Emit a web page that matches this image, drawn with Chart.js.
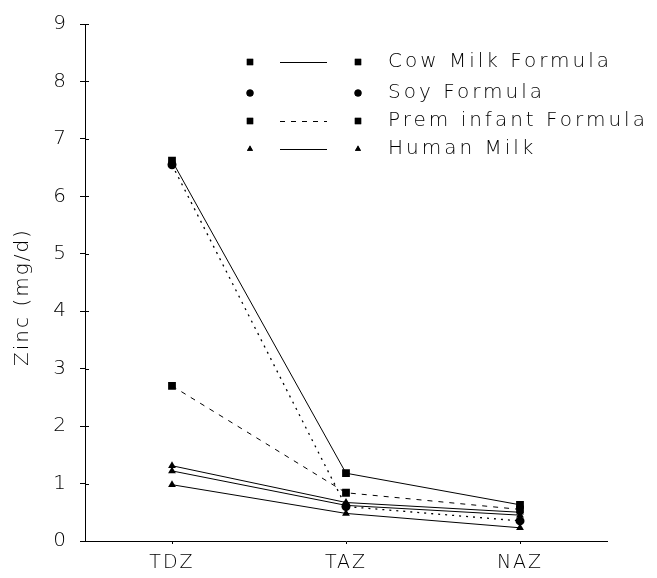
<!DOCTYPE html>
<html>
<head>
<meta charset="utf-8">
<script src="https://cdn.jsdelivr.net/npm/chart.js@4"></script>
<style>
  html, body { margin: 0; padding: 0; background: #fff; }
  #wrap { width: 657px; height: 578px; position: relative; }
</style>
</head>
<body>
<div id="wrap"><canvas id="chart1"></canvas></div>
<script>
var categories = ["TDZ", "TAZ", "NAZ"];
var cowMilk = [6.62, 1.18, 0.63];
var soyFormula = [6.55, 0.6, 0.35];
var premFormula = [2.7, 0.84, 0.55];
var humanMilkA = [1.31, 0.67, 0.5];
var humanMilkB = [1.22, 0.62, 0.45];
var humanMilkC = [0.98, 0.48, 0.23];
var yTicks = [0, 1, 2, 3, 4, 5, 6, 7, 8, 9];

var FONT = "DejaVu Sans";
var WEIGHT = "200";

function line(label, data, style, dash, width, inLegend) {
    return {
        label: label,
        data: data,
        borderColor: "#000",
        backgroundColor: "#000",
        borderWidth: width,
        borderDash: dash,
        pointStyle: style,
        pointRadius: style === "rect" ? 5.5 : 4.5,
        pointBorderWidth: 0,
        tension: 0,
        inLegend: inLegend
    };
}

// letter spaced text like the original typesetting
var spacingPlugin = {
    id: "spacing",
    beforeLayout: function (chart) { chart.ctx.letterSpacing = "2px"; },
    beforeDraw: function (chart) { chart.ctx.letterSpacing = "2px"; }
};

// legend drawn as: marker ---- marker  text, plus axis title and inner tick marks
var legendPlugin = {
    id: "markerLegend",
    afterDraw: function (chart) {
        var c = chart.ctx;
        var rows = [62, 93, 121, 149];
        var k = 0;
        chart.data.datasets.forEach(function (ds) {
            if (!ds.inLegend) return;
            var y = rows[k++];
            var r = ds.pointStyle === "rect" ? 4.5 : 3.5;
            c.save();
            c.fillStyle = "#000";
            Chart.helpers.drawPoint(c, { pointStyle: ds.pointStyle, radius: r, borderWidth: 0 }, 250, y);
            c.fill();
            Chart.helpers.drawPoint(c, { pointStyle: ds.pointStyle, radius: r, borderWidth: 0 }, 358, y);
            c.fill();
            if (ds.label !== "Soy Formula") {
                c.strokeStyle = "#000";
                c.lineWidth = 1;
                c.setLineDash(ds.borderDash || []);
                c.beginPath();
                c.moveTo(280, y + 0.5);
                c.lineTo(327, y + 0.5);
                c.stroke();
                c.setLineDash([]);
            }
            c.font = WEIGHT + " 20px '" + FONT + "'";
            c.letterSpacing = "3px";
            c.textBaseline = "middle";
            c.fillText(ds.label, 388, y);
            c.restore();
        });

        var ys = chart.scales.y;
        c.save();
        c.strokeStyle = "#000";
        c.lineWidth = 1;
        c.beginPath();
        yTicks.forEach(function (v) {
            var py = Math.round(ys.getPixelForValue(v)) + 0.5;
            c.moveTo(ys.right, py);
            c.lineTo(ys.right + 4, py);
        });
        c.stroke();
        c.restore();

        // y axis title
        c.save();
        c.translate(23, 297);
        c.rotate(-Math.PI / 2);
        c.font = WEIGHT + " 20px '" + FONT + "'";
        c.letterSpacing = "2px";
        c.textAlign = "center";
        c.textBaseline = "middle";
        c.fillStyle = "#000";
        c.fillText("Zinc (mg/d)", 0, 0);
        c.restore();
    }
};

var ctx = document.getElementById("chart1").getContext("2d");
var myChart = new Chart(ctx, {
    type: "line",
    data: {
        labels: categories,
        datasets: [
            line("Cow Milk Formula", cowMilk, "rect", [], 1, true),
            line("Soy Formula", soyFormula, "circle", [2, 5], 1.3, true),
            line("Prem infant Formula", premFormula, "rect", [5, 6], 1, true),
            line("Human Milk", humanMilkA, "triangle", [], 1, true),
            line("Human Milk B", humanMilkB, "triangle", [], 1, false),
            line("Human Milk C", humanMilkC, "triangle", [], 1, false)
        ]
    },
    options: {
        responsive: true,
        maintainAspectRatio: false,
        animation: false,
        layout: { padding: { left: 0, right: 50, top: 17, bottom: 0 } },
        plugins: {
            legend: { display: false },
            tooltip: { enabled: false }
        },
        scales: {
            x: {
                offset: true,
                afterFit: function (s) { s.height = 37; },
                border: { color: "#000", width: 1 },
                grid: { display: true, drawOnChartArea: false, drawTicks: true, tickLength: 3, color: "#000" },
                ticks: { color: "#000", padding: 8, font: { family: FONT, size: 19, weight: WEIGHT } }
            },
            y: {
                min: 0,
                max: 9,
                afterFit: function (s) { s.width = 85; },
                afterBuildTicks: function (s) { s.ticks = yTicks.map(function (v) { return { value: v }; }); },
                border: { color: "#000", width: 1 },
                grid: { display: true, drawOnChartArea: false, drawTicks: true, tickLength: 5, color: "#000" },
                ticks: { color: "#000", padding: 12, font: { family: FONT, size: 20, weight: WEIGHT } }
            }
        }
    },
    plugins: [spacingPlugin, legendPlugin]
});
</script>
</body>
</html>
